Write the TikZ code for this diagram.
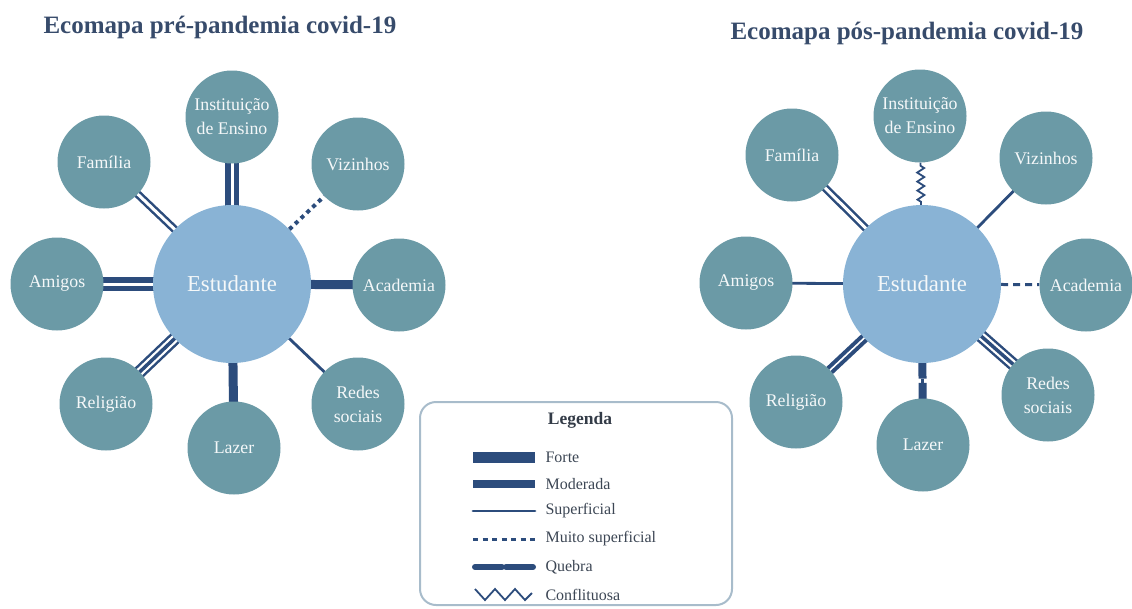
\documentclass[tikz,border=0pt]{standalone}
\usepackage{fontspec}
\setmainfont{Liberation Serif}
\usetikzlibrary{backgrounds,calc,decorations.pathmorphing}
\definecolor{edge}{HTML}{2C4C7C}
\definecolor{satfill}{HTML}{6B9AA6}
\definecolor{estfill}{HTML}{89B3D5}
\definecolor{titlecol}{HTML}{374B6B}
\definecolor{framecol}{HTML}{A8BCCB}
\definecolor{legtext}{HTML}{3C4654}
\definecolor{nodetext}{HTML}{F5F8F9}
\begin{document}
\begin{tikzpicture}[x=1pt,y=-1pt,
  sat/.style={circle, fill=satfill, minimum size=93pt, inner sep=0pt, text=nodetext,
    align=center, font=\fontsize{17.8}{24}\selectfont},
  est/.style={circle, fill=estfill, minimum size=158pt, inner sep=0pt, text=nodetext,
    font=\fontsize{22.8}{26}\selectfont},
  titulo/.style={anchor=base west, text=titlecol, font=\bfseries\fontsize{25}{30}\selectfont},
  forte/.style={draw=edge, line width=5.5pt, double=white, double distance=3pt},
  fortefina/.style={draw=edge, line width=2.5pt, double=white, double distance=3pt},
  fortemedia/.style={draw=edge, line width=4pt, double=white, double distance=1.6pt},
  fortetripla/.style={draw=edge, line width=13pt,
    postaction={draw=white, line width=8pt},
    postaction={draw=edge, line width=3.5pt}},
  moderada/.style={draw=edge, line width=9pt},
  superficial/.style={draw=edge, line width=2.8pt},
  pontilhada/.style={draw=edge, line width=4pt, dash pattern=on 4pt off 4pt},
  tracejada/.style={draw=edge, line width=3pt, dash pattern=on 7pt off 5pt},
  quebra/.style={draw=edge, line width=8pt},
  pescoco/.style={draw=edge, line width=2.5pt},
  conflito/.style={draw=edge, line width=1.8pt, decorate,
    decoration={zigzag, segment length=9pt, amplitude=3.5pt, pre length=3pt, post length=3pt}},
  legenda/.style={anchor=west, text=legtext, font=\fontsize{16}{20}\selectfont},
]
\useasboundingbox (0,0) rectangle (1132,608);

% titles
\node[titulo] (t1) at (40,33) {Ecomapa pré-pandemia covid-19};
\node[titulo] (t2) at (727,39) {Ecomapa pós-pandemia covid-19};

% ---- before the pandemic ----
\node[est] (e1) at (232,284) {Estudante};
\node[sat] (i1) at (232,117) {Instituição\\de Ensino};
\node[sat] (f1) at (104,162) {Família};
\node[sat] (v1) at (358,164) {Vizinhos};
\node[sat] (a1) at (57,284) {Amigos};
\node[sat] (c1) at (399,285) {Academia};
\node[sat] (r1) at (106,404) {Religião};
\node[sat] (l1) at (234,448) {Lazer};
\node[sat] (s1) at (358,404) {Redes\\sociais};

% ---- after the pandemic ----
\node[est] (e2) at (922,284) {Estudante};
\node[sat] (i2) at (920,116) {Instituição\\de Ensino};
\node[sat] (f2) at (792,155) {Família};
\node[sat] (v2) at (1046,158) {Vizinhos};
\node[sat] (a2) at (746,283) {Amigos};
\node[sat] (c2) at (1086,285) {Academia};
\node[sat] (r2) at (796,402) {Religião};
\node[sat] (l2) at (923,445) {Lazer};
\node[sat] (s2) at (1048,395) {Redes\\sociais};

\begin{scope}[on background layer]
  % links before
  \draw[forte] (e1.center) -- (i1.center);
  \draw[fortefina] (e1.center) -- (f1.center);
  \draw[pontilhada] (e1) -- (v1);
  \draw[forte] (e1.center) -- (a1.center);
  \draw[moderada] (e1.center) -- (c1.center);
  \draw[fortetripla] (e1.center) -- (r1.center);
  \draw[moderada] (e1.center) -- (l1.center);
  \draw[superficial] (e1.center) -- (s1.center);
  % links after
  \draw[conflito] (e2) -- (i2);
  \draw[fortefina] (e2.center) -- (f2.center);
  \draw[superficial] (e2.center) -- (v2.center);
  \draw[superficial] (e2.center) -- (a2.center);
  \draw[tracejada] (e2) -- (c2);
  \draw[fortemedia] (e2.center) -- (r2.center);
  \draw[fortetripla] (e2.center) -- (s2.center);
  \coordinate (qm) at ($(e2.south)!0.5!(l2.north)$);
  \coordinate (qa) at ($(qm)+(0,-2.2)$);
  \coordinate (qb) at ($(qm)+(0,2.2)$);
  \draw[quebra] (e2.center) -- (qa);
  \draw[quebra] (qb) -- (l2.center);
  \draw[pescoco] (qa) -- (qb);
\end{scope}

% ---- legend ----
\draw[framecol, line width=2pt, rounded corners=16pt] (420,402) rectangle (732,605);
\node[text=legtext!85!black, font=\bfseries\fontsize{17.5}{20}\selectfont] (leg) at (580,420) {Legenda};

\coordinate (fa) at (473,457); \coordinate (fb) at (535,457);
\coordinate (ma) at (473,484); \coordinate (mb) at (535,484);
\coordinate (sa) at (473,511); \coordinate (sb) at (535,511);
\coordinate (pa) at (473,539); \coordinate (pb) at (535,539);
\coordinate (qla) at (475,567); \coordinate (qlb) at (533,567);
\coordinate (qlm1) at (502,567); \coordinate (qlm2) at (506,567);

\draw[draw=edge, line width=11pt] (fa) -- (fb);
\draw[draw=edge, line width=8.5pt] (ma) -- (mb);
\draw[superficial, line cap=round] (sa) -- (sb);
\draw[draw=edge, line width=3pt, dash pattern=on 5pt off 4.5pt] (pa) -- (pb);
\draw[draw=edge, line width=6pt, line cap=round] (qla) -- (qlm1);
\draw[draw=edge, line width=6pt, line cap=round] (qlm2) -- (qlb);
\draw[pescoco] (qlm1) -- (qlm2);
\draw[draw=edge, line width=1.8pt]
  (475,589) -- (485,600) -- (495,589) -- (505,600) -- (515,589) -- (525,600) -- (532,593);

\node[legenda] (lf) at (542,457) {Forte};
\node[legenda] (lm) at (542,484) {Moderada};
\node[legenda] (ls) at (542,511) {Superficial};
\node[legenda] (lp) at (542,539) {Muito superficial};
\node[legenda] (lq) at (542,567) {Quebra};
\node[legenda] (lc) at (542,595) {Conflituosa};
\end{tikzpicture}
\end{document}
